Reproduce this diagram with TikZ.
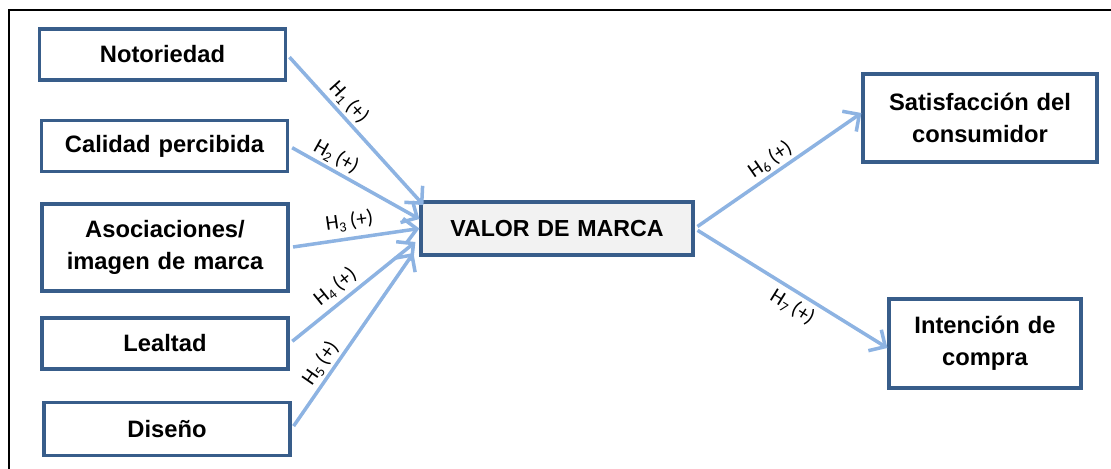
\documentclass[tikz,border=0pt]{standalone}
\usepackage{fontspec}
\setmainfont{Liberation Sans}
\newfontfamily\labelfont{Carlito}
\usetikzlibrary{arrows.meta,positioning}
\definecolor{boxblue}{HTML}{385D8A}
\definecolor{arrowblue}{HTML}{8DB3E2}
\definecolor{valorgray}{HTML}{F2F2F2}

\begin{document}
\begin{tikzpicture}[
    node distance=1.8cm,
    factor/.style={rectangle, draw=boxblue, line width=1.8pt, fill=white, text width=4.5cm, text centered, minimum width=4.92cm, minimum height=1.02cm, font=\fontsize{13.5}{18}\selectfont\bfseries},
    central/.style={factor, fill=valorgray, text width=5cm, minimum width=5.44cm, minimum height=1.06cm, font=\fontsize{13.2}{18}\selectfont\bfseries},
    result/.style={factor, text width=4cm, minimum width=4.68cm, minimum height=1.76cm},
    arrow/.style={draw=arrowblue, line width=2pt, -{Straight Barb[length=7pt,width=14pt]}, shorten <=2pt},
    hyp/.style={font=\labelfont\fontsize{12}{14}\selectfont, inner sep=1.5pt, sloped}
]
\useasboundingbox (0,0) rectangle (22.22,-9.38);
% Frame
\draw[line width=1.7pt] (22.22,-0.2) -- (0.18,-0.2) -- (0.18,-9.38);
% Brand equity dimensions
\node[factor] (noto) at (3.25,-1.09) {Notoriedad};
\node[factor, below of=noto, node distance=1.83cm, xshift=0.04cm] (calidad) {Calidad percibida};
\node[factor, below of=calidad, node distance=2.03cm, xshift=0.01cm, minimum height=1.74cm] (asoc) {Asociaciones/\\imagen de marca};
\node[factor, below of=asoc, node distance=1.92cm] (lealtad) {Lealtad};
\node[factor, below of=lealtad, node distance=1.71cm, xshift=0.04cm, minimum height=1.06cm] (diseno) {Diseño};
% Brand equity
\node[central, right of=asoc, node distance=7.84cm, yshift=0.38cm] (valor) {VALOR DE MARCA};
% Outcomes
\node[result, right of=valor, node distance=8.46cm, yshift=2.21cm] (satis) {Satisfacción del\\consumidor};
\node[result, right of=valor, node distance=8.56cm, yshift=-2.3cm, text width=3.4cm, minimum width=3.84cm, minimum height=1.78cm] (intencion) {Intención de\\compra};
% Hypotheses
\draw[arrow] (noto.east) -- ([xshift=0.08cm, yshift=0.47cm]valor.west) node[hyp, pos=0.38, above] {H\textsubscript{1}\,(+)};
\draw[arrow] (calidad.east) -- ([yshift=0.19cm]valor.west) node[hyp, pos=0.31, above] {H\textsubscript{2}\,(+)};
\draw[arrow] (asoc.east) -- (valor.west) node[hyp, pos=0.48, above=2pt] {H\textsubscript{3}\,(+)};
\draw[arrow] (lealtad.east) -- ([xshift=-0.08cm, yshift=-0.27cm]valor.west) node[hyp, pos=0.44, above=1pt] {H\textsubscript{4}\,(+)};
\draw[arrow] (diseno.east) -- ([xshift=-0.12cm, yshift=-0.49cm]valor.west) node[hyp, pos=0.33, above] {H\textsubscript{5}\,(+)};
\draw[arrow] (valor.east) -- ([yshift=0.1cm]satis.west) node[hyp, pos=0.5, above] {H\textsubscript{6}\,(+)};
\draw[arrow] (valor.east) -- ([yshift=-0.09cm]intencion.west) node[hyp, pos=0.55, below=1pt] {H\textsubscript{7}\,(+)};
\end{tikzpicture}
\end{document}
